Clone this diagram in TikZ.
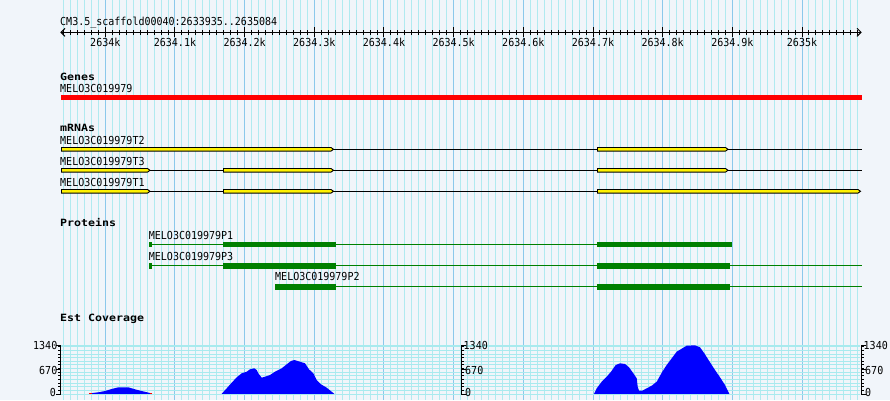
\documentclass[tikz,border=0pt]{standalone}
\usepackage{fontspec}
\newfontfamily\gbf[FakeStretch=0.91]{DejaVu Sans Mono}
\newfontfamily\gbb[FakeStretch=1.16]{DejaVu Sans Mono}
\definecolor{bgc}{RGB}{241,245,250}
\definecolor{gmin}{RGB}{176,234,240}
\definecolor{gmaj}{RGB}{140,200,235}
\definecolor{hgc}{RGB}{168,234,238}
\definecolor{pgreen}{RGB}{0,128,0}
\definecolor{cblue}{RGB}{0,0,255}
\begin{document}
\begin{tikzpicture}[x=1pt,y=-1pt,
  lbl/.style={font=\gbf\fontsize{11}{11}\selectfont, anchor=base west, inner sep=0pt},
  axl/.style={font=\gbf\fontsize{11}{11}\selectfont, inner sep=0pt},
  hdr/.style={font=\gbb\bfseries\fontsize{10}{10}\selectfont, anchor=base west, inner sep=0pt},
  gridmin/.style={draw=gmin, line width=1pt},
  gridmaj/.style={draw=gmaj, line width=1pt},
  hgrid/.style={draw=hgc, line width=1pt},
  thin1/.style={line width=1pt},
  exonbox/.style={fill=yellow, draw=black, line width=0.9pt},
  mline/.style={draw=black, line width=1pt},
  pline/.style={draw=pgreen, line width=1pt},
  pbox/.style={fill=pgreen},
  cov/.style={fill=cblue},
]
\fill[bgc] (0,0) rectangle (890,400);
\useasboundingbox (0,0) rectangle (890,400);
% vertical grid
\foreach \i in {-6,...,108} {
  \pgfmathsetmacro\xx{105.3+6.967*\i}
  \pgfmathtruncatemacro\m{mod(\i+100,10)}
  \ifnum\m=0 \draw[gridmaj] (\xx,0) -- (\xx,400); \else \draw[gridmin] (\xx,0) -- (\xx,400); \fi
}
% horizontal coverage grid
\foreach \k in {0,...,13} {
  \pgfmathsetmacro\yy{394-3.634*\k}
  \draw[hgrid] (60,\yy) -- (860,\yy);
}
\draw[hgrid, line width=2pt] (60,346) -- (860,346);
% ruler
\node[lbl] (title) at (60,25) {CM3.5\_scaffold00040:2633935..2635084};
\coordinate (rl) at (61,32.3);
\coordinate (rr) at (861,32.3);
\draw[thin1] (rl) -- (rr);
\draw[thin1] (65,28.3) -- (rl) -- (65,36.3);
\draw[thin1] (857,28.3) -- (rr) -- (857,36.3);
\foreach \i in {-6,...,108} {
  \pgfmathsetmacro\xx{105.3+6.967*\i}
  \pgfmathtruncatemacro\m{mod(\i+100,10)}
  \ifnum\m=0 \draw[thin1] (\xx,27.3) -- (\xx,37.3); \else \draw[thin1] (\xx,30) -- (\xx,35); \fi
}
\foreach \j/\t in {0/2634k,1/2634.1k,2/2634.2k,3/2634.3k,4/2634.4k,5/2634.5k,6/2634.6k,7/2634.7k,8/2634.8k,9/2634.9k,10/2635k} {
  \pgfmathsetmacro\xx{105.3+69.67*\j}
  \node[axl, anchor=base] (tick\j) at (\xx,46.7) {\t};
}
% Genes
\node[hdr] (genes) at (60,80) {Genes};
\node[lbl] (gname) at (60,92.3) {MELO3C019979};
\fill[red] (61,95) rectangle (862,100.3);
% mRNAs
\node[hdr] (mrnas) at (60,131.7) {mRNAs};
\node[lbl] (t2) at (60,144.3) {MELO3C019979T2};
\node[lbl] (t3) at (60,165) {MELO3C019979T3};
\node[lbl] (t1) at (60,186) {MELO3C019979T1};
\newcommand\exonshape[3]{\filldraw[exonbox] (#1,#3-1.8) -- (#2,#3-1.8) -- (#2+2.5,#3) -- (#2,#3+1.8) -- (#1,#3+1.8) -- cycle;}
% T2
\draw[mline] (333,149.3) -- (861.5,149.3);
\exonshape{61.5}{331}{149.3}
\exonshape{597.5}{725.5}{149.3}
% T3
\draw[mline] (148,170.3) -- (861.5,170.3);
\exonshape{61.5}{147.5}{170.3}
\exonshape{223.5}{331}{170.3}
\exonshape{597.5}{725.5}{170.3}
% T1
\draw[mline] (148,191.3) -- (598,191.3);
\exonshape{61.5}{147.5}{191.3}
\exonshape{223.5}{331}{191.3}
\exonshape{597.5}{858}{191.3}
% Proteins
\node[hdr] (prot) at (60,226.7) {Proteins};
\node[lbl] (p1) at (148.7,239.3) {MELO3C019979P1};
\node[lbl] (p3) at (148.7,260) {MELO3C019979P3};
\node[lbl] (p2) at (275,280.7) {MELO3C019979P2};
% P1
\draw[pline] (152,244.7) -- (597,244.7);
\fill[pbox] (148.7,242) rectangle (152,247.4);
\fill[pbox] (223.3,242) rectangle (336,247.4);
\fill[pbox] (597,242) rectangle (732,247.4);
% P3
\draw[pline] (152,265.7) -- (861.5,265.7);
\fill[pbox] (148.7,262.8) rectangle (152,268.6);
\fill[pbox] (223.3,262.8) rectangle (336,268.6);
\fill[pbox] (597,262.8) rectangle (730,268.6);
% P2
\draw[pline] (336,286.7) -- (861.5,286.7);
\fill[pbox] (275,284) rectangle (336,289.5);
\fill[pbox] (597,284) rectangle (730,289.5);
% Est coverage
\node[hdr] (est) at (60,321.7) {Est Coverage};
\fill[cov] (90,393.8) -- (90,393.3) -- (98.3,392.3) -- (105,391) -- (111.7,389) -- (118.3,387.3) -- (128.3,387.3) -- (135,389.3) -- (141.7,391) -- (150,393) -- (152,393.8) -- cycle;
\draw[red, line width=1pt] (89,393.3) -- (91.5,393.3);
\draw[red, line width=1pt] (149.5,393.3) -- (152,393.3);
\fill[cov] (221.7,393.8) -- (226.7,388.3) -- (231.7,382.7) -- (236.7,377.3) -- (241.7,373.3) -- (246.7,371.7) -- (250,369.3) -- (254.3,368.3) -- (256.7,370) -- (258.3,373.3) -- (261.7,377.7) -- (265,376.7) -- (270,375) -- (275,371.7) -- (281.7,368.3) -- (286.7,364.3) -- (291,361) -- (294.3,360) -- (300,361.7) -- (305,363.3) -- (309,369.3) -- (313.3,373.3) -- (316.7,380) -- (321,384.3) -- (326.7,387.7) -- (334.3,393.8) -- cycle;
\fill[cov] (594,393.8) -- (596.7,388.3) -- (601.7,381.7) -- (606.7,376.7) -- (611,371.7) -- (615.7,365) -- (620,363.3) -- (625,364) -- (629,367.3) -- (633.3,373.3) -- (636.7,378.3) -- (637.7,386.7) -- (639,390.7) -- (642.3,390.7) -- (646.7,388.3) -- (651.7,385.7) -- (656.7,381.7) -- (662.3,371.7) -- (666.7,365) -- (671.7,358.3) -- (676.7,351.7) -- (682.3,348.3) -- (686.7,345.7) -- (695,345.3) -- (700,347.3) -- (704.3,353.3) -- (709,360.7) -- (715,370) -- (720,377.3) -- (725,385) -- (729.3,393.8) -- cycle;
% axes
\foreach \ax/\dir in {60.5/-1, 461.5/1, 861.5/1} {
  \draw[thin1] (\ax,345.3) -- (\ax,394.5);
  \foreach \k in {0,...,13} {
    \pgfmathsetmacro\yy{394-3.634*\k}
    \draw[thin1] (\ax,\yy) -- (\ax+2.5*\dir,\yy);
  }
  \foreach \yy in {345.3,369.7,394} {\draw[thin1] (\ax,\yy) -- (\ax+4.5*\dir,\yy);}
}
\node[axl, anchor=base east] (l1340a) at (57.5,349.7) {1340};
\node[axl, anchor=base east] (l670a) at (57.5,374.5) {670};
\node[axl, anchor=base east] (l0a) at (56,396) {0};
\node[axl, anchor=base west] (l1340b) at (463.5,349.7) {1340};
\node[axl, anchor=base west] (l670b) at (465,374.5) {670};
\node[axl, anchor=base west] (l0b) at (465,396) {0};
\node[axl, anchor=base west] (l1340c) at (863.5,349.7) {1340};
\node[axl, anchor=base west] (l670c) at (865,374.5) {670};
\node[axl, anchor=base west] (l0c) at (865,396) {0};
\end{tikzpicture}
\end{document}
